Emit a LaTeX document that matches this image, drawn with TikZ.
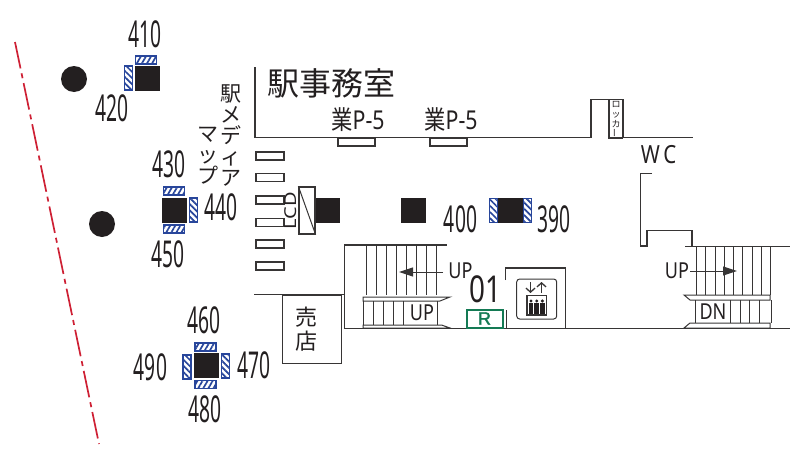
\documentclass[tikz,border=0pt]{standalone}
\usepackage{fontspec}
\usetikzlibrary{arrows.meta,patterns.meta}
\newfontfamily\numfont{Noto Sans}
\newfontfamily\signfont[FakeBold=2]{Liberation Sans}
\newfontfamily\cjk{Noto Sans CJK JP}
\definecolor{hatchblue}{RGB}{40,70,155}
\definecolor{wallgrey}{RGB}{55,53,53}
\definecolor{inkblack}{RGB}{35,31,32}
\definecolor{railred}{RGB}{206,32,52}
\definecolor{signgreen}{RGB}{20,122,84}
\tikzset{
  wall/.style={draw=wallgrey,line width=1.3pt},
  tread/.style={draw=wallgrey,line width=1pt},
  pillar/.style={fill=inkblack,minimum size=25pt,inner sep=0pt},
  hatchtop/.style={draw=hatchblue,line width=1.4pt,minimum width=21pt,minimum height=8pt,inner sep=0pt,
    pattern={Lines[angle=60,distance=4.4pt,line width=1.7pt]},pattern color=hatchblue},
  hatchside/.style={draw=hatchblue,line width=1.4pt,minimum width=8pt,minimum height=24pt,inner sep=0pt,
    pattern={Lines[angle=-45,distance=4.4pt,line width=1.7pt]},pattern color=hatchblue},
  num/.style={font=\fontsize{37}{37}\selectfont\numfont,text=inkblack,xscale=.52,inner sep=0pt},
  latin/.style={font=\fontsize{22}{22}\selectfont\numfont,text=inkblack,xscale=.82,inner sep=0pt},
  jp/.style={font=\fontsize{22}{21}\selectfont\cjk,text=inkblack,align=center,inner sep=0pt},
  slot/.style={draw=wallgrey,line width=1.2pt,fill=white,minimum width=28pt,minimum height=8pt,inner sep=0pt},
  bench/.style={draw=wallgrey,line width=1.2pt,fill=white,minimum width=37pt,minimum height=8pt,inner sep=0pt},
}
\begin{document}
\begin{tikzpicture}[x=1pt,y=-1pt]
  \useasboundingbox (0,0) rectangle (811,450);

  \draw[railred,line width=1.7pt,dash pattern=on 27pt off 5pt on 5pt off 5pt] (15,42) -- (99,444);
  \fill[inkblack] (74,79) circle (13);
  \fill[inkblack] (102,224) circle (13);

  % pillars
  \begin{scope}[every node/.style={pillar}]
    \node (p410) at (147.5,78.5)  {};
    \node (p430) at (174.5,210.5) {};
    \node (plcd) at (327,210.5)   {};
    \node (p400) at (413.5,210.5) {};
    \node (p390) at (510.5,210.5) {};
    \node (p460) at (206.5,365.5) {};
  \end{scope}

  \node[hatchtop]  (h410) at (146,60)    {};
  \node[hatchside] (h420) at (128.5,78)  {};
  \node[hatchtop]  (h430) at (174,191)   {};
  \node[hatchside] (h440) at (193.5,210) {};
  \node[hatchtop]  (h450) at (174,229)   {};
  \node[hatchside] (h390) at (493.5,210.5) {};
  \node[hatchside] (h39b) at (527.5,210.5) {};
  \node[hatchtop]  (h460) at (205.5,347) {};
  \node[hatchside] (h470) at (225.5,366) {};
  \node[hatchtop]  (h480) at (205.5,384.5) {};
  \node[hatchside] (h490) at (187,367)   {};

  \node[num] (n410) at (145,34)    {410};
  \node[num] (n420) at (112,108)   {420};
  \node[num] (n430) at (169,164)   {430};
  \node[num] (n440) at (221,207)   {440};
  \node[num] (n450) at (168,254)   {450};
  \node[num] (n400) at (460.5,219) {400};
  \node[num] (n390) at (554,219)   {390};
  \node[num] (n460) at (204,320)   {460};
  \node[num] (n470) at (254,365)   {470};
  \node[num] (n480) at (205,409)   {480};
  \node[num] (n490) at (150.5,367) {490};
  \node[num,xscale=1.45] (n01) at (485,289.5) {01};

  % office walls
  \draw[wall] (255,67) -- (255,137.5) -- (591,137.5) -- (591,99.5) -- (623,99.5) -- (623,137.5) -- (693,137.5);
  \draw[wall] (609,99.5) rectangle (622.5,138);
  \draw[wall,line width=2pt] (622.5,99.5) -- (622.5,138);
  \draw[wall] (652,173.5) -- (640.5,173.5) -- (640.5,246) -- (647,246) -- (647,230.5) -- (692,230.5) -- (692,246);

  \node[jp,font=\fontsize{32}{32}\selectfont\cjk] (office) at (331,83) {駅事務室};
  \node[jp,font=\fontsize{21}{21}\selectfont\cjk] (media) at (231,135) {駅\\メ\\デ\\ィ\\ア};
  \node[jp,font=\fontsize{21}{21}\selectfont\cjk] (map) at (208,156) {マ\\ッ\\プ};
  \node[jp,font=\fontsize{9}{10}\selectfont\cjk] (locker) at (616,119) {ロ\\ッ\\カ\\\rotatebox{90}{ー}};
  \node[latin,font=\fontsize{25}{25}\selectfont\numfont] (wc) at (658.5,155) {W\,C};

  \node[latin,font=\fontsize{26}{26}\selectfont\numfont] (gyo1) at (358,119.5) {{\cjk 業}P-5};
  \node[latin,font=\fontsize{26}{26}\selectfont\numfont] (gyo2) at (451,119.5) {{\cjk 業}P-5};
  \node[bench] (b1) at (356.5,142) {};
  \node[bench] (b2) at (448.5,142) {};

  % gates
  \begin{scope}[every node/.style={slot}]
    \node (s1) at (270,156)   {};
    \node (s2) at (270,177.5) {};
    \node (s3) at (270,200)   {};
    \node (s4) at (270,222.5) {};
    \node (s5) at (270,244)   {};
    \node (s6) at (270,266)   {};
  \end{scope}
  \node[latin,rotate=90,xscale=1,font=\fontsize{20}{20}\selectfont\numfont,fill=white,inner sep=.5pt] (lcd) at (291,210.5) {LCD};
  \node[draw=wallgrey,line width=1.2pt,fill=white,minimum width=16pt,minimum height=47pt,inner sep=0pt] (screen) at (307,210.5) {};
  \draw[tread] (screen.north west) -- (screen.south east);

  % left stairs
  \draw[wall] (254,294.5) -- (344.5,294.5);
  \draw[wall] (446.5,245) -- (344.5,245) -- (344.5,328.5) -- (790,328.5);
  \foreach \tx in {366,376,386,396.3,406.3,416.7,426.7,436.7}
    \draw[tread] (\tx,245) -- (\tx,295);
  \draw[tread] (363,301) -- (363,297) -- (450,297) -- (440,301) -- cycle;
  \draw[tread] (363,325) -- (363,328) -- (450,328) -- (441.5,325) -- cycle;
  \draw[tread] (363,301) -- (363,325);
  \draw[tread] (437,301) -- (437,325);
  \foreach \tx in {373.3,383.3,393.3,403.3}
    \draw[tread] (\tx,301) -- (\tx,325);
  \coordinate (upa) at (443,272);
  \coordinate (upb) at (399,272);
  \draw[tread,-{Stealth[inset=0pt,length=14pt,width=9pt]}] (upa) -- (upb);
  \node[latin] (up1) at (460.5,271) {UP};
  \node[latin] (up2) at (422,313) {UP};

  % shop
  \draw[wall] (282.5,295) rectangle (341.5,363.5);
  \node[jp,font=\fontsize{22}{24.5}\selectfont\cjk] (shop) at (306.5,329) {売\\店};

  % right stairs
  \draw[wall] (685,246.5) -- (790,246.5);
  \foreach \tx in {696,705.7,715.7,724.3,733.3,742.7,752,761.3,770.3}
    \draw[tread] (\tx,246.5) -- (\tx,295);
  \draw[tread] (684,295) -- (770,295) -- (770,300) -- (690,300) -- cycle;
  \draw[tread] (684,328) -- (770,328) -- (770,323) -- (690,323) -- cycle;
  \draw[tread] (695,300) -- (695,323);
  \draw[tread] (771,300) -- (771,323);
  \foreach \tx in {730,740,749,759}
    \draw[tread] (\tx,300) -- (\tx,323);
  \coordinate (upc) at (690,271);
  \coordinate (upd) at (737,271);
  \draw[tread,-{Stealth[inset=0pt,length=14pt,width=9pt]}] (upc) -- (upd);
  \node[latin] (up3) at (677,271) {UP};
  \node[latin] (dn) at (713,312) {DN};

  % sign and lift
  \node[draw=signgreen,line width=2pt,fill=white,minimum width=36pt,minimum height=18pt,inner sep=0pt,
    text=signgreen,font=\fontsize{18}{18}\selectfont\signfont] (sign) at (484.5,318.5) {R};
  \draw[wall] (505.7,280) -- (505.7,268) -- (565.7,268) -- (565.7,328.5);
  \draw[wall] (506.7,310) -- (506.7,328.5);
  \draw[tread,rounded corners=3pt] (516.7,279) rectangle (556.7,319);
  \draw[wall,-{Straight Barb[length=4pt,width=9pt]}] (530.5,282) -- (530.5,293);
  \draw[wall,-{Straight Barb[length=4pt,width=9pt]}] (541.5,293) -- (541.5,282);
  \draw[wall,line width=1.6pt] (527,295.5) rectangle (546.5,315);
  \foreach \tx in {531,536.7,542.4}{
    \fill[inkblack] (\tx,301) circle (1.7);
    \fill[inkblack] (\tx-2.3,303) rectangle (\tx+2.3,313.5);
  }
\end{tikzpicture}
\end{document}
